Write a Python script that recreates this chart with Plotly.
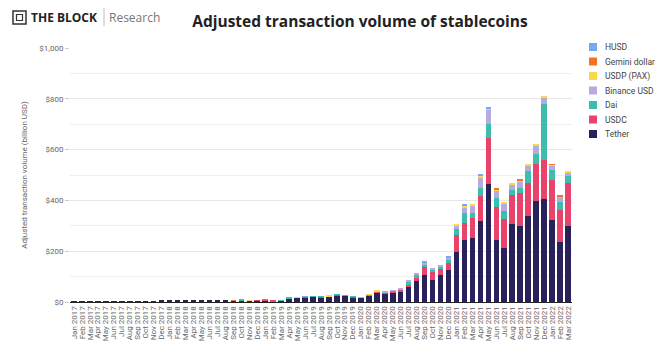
import plotly.graph_objects as go

months = ["Jan", "Feb", "Mar", "Apr", "May", "Jun", "Jul", "Aug", "Sep", "Oct", "Nov", "Dec"]
categories = [f"{m} {y}" for y in range(2017, 2023) for m in months][:63]

tether = [0.2, 0.2, 0.3, 0.3, 0.4, 0.5, 0.6, 0.7, 2.5, 1.0, 3, 5,
          9, 5, 6.5, 6.5, 8.5, 6.5, 8.5, 6.5, 6.5, 7, 5.5, 6,
          7, 3.5, 5.5, 14.5, 17, 19, 21, 19.5, 22, 27, 24.5, 19.5,
          16.5, 24.5, 36, 34, 39, 43, 59, 83, 107, 88, 107, 126,
          198, 243, 251, 318, 463, 245, 213, 309, 301, 339, 399, 405,
          322, 236, 300]
usdc = [0, 0, 0, 0, 0, 0, 0, 0, 0, 0, 0, 0,
        0, 0, 0, 0, 0, 0, 0, 0, 0, 0.5, 0.6, 1.2,
        1.5, 0.5, 0.7, 1, 1, 1, 1, 1, 1, 1.5, 1.5, 2.5,
        1.5, 2.5, 4, 3, 4, 5, 8, 13, 29, 33, 22, 28,
        65, 70, 78, 98, 183, 129, 113, 111, 127, 131, 143, 153,
        160, 127, 170]
dai = [0, 0, 0, 0, 0, 0, 0, 0, 0, 0, 0, 0,
       0, 0, 0, 0, 0, 0, 0, 0, 0, 0.8, 0, 0,
       0, 0, 0.3, 0.5, 0.6, 0.6, 1.5, 0.5, 0, 1, 1.2, 1,
       1, 1, 2, 2, 2, 3, 12, 9, 11, 5, 9, 10,
       24, 38, 21, 33, 55, 35, 33, 21, 21, 44, 41, 220,
       39, 32, 25]
busd = [0, 0, 0, 0, 0, 0, 0, 0, 0, 0, 0, 0,
        0, 0, 0, 0, 0, 0, 0, 0, 0, 0, 0, 0,
        0, 0, 0, 0, 0, 0, 0, 0, 0, 0, 0, 0,
        0.5, 0, 1, 2, 2, 2, 5, 8, 10, 7, 7, 10,
        15, 22, 29, 43, 56, 29, 27, 23, 26, 22, 33, 26,
        17, 19, 13]
usdp = [0, 0, 0, 0, 0, 0, 0, 0, 0, 0, 0, 0,
        0, 0, 0, 0, 0, 0, 0, 0, 0.3, 0, 0.4, 0,
        0, 0, 0, 0, 0.4, 0, 0, 0, 1.5, 0, 0, 0,
        0, 1, 2, 0, 0, 0, 0, 0, 0, 0, 0, 0,
        6, 5, 6, 3, 5, 5, 5, 3, 5, 6, 5, 5,
        3, 0, 4]
gusd = [0, 0, 0, 0, 0, 0, 0, 0, 0, 0, 0, 0,
        0, 0, 0, 0, 0, 0, 0, 0, 0.2, 0, 0, 0,
        1.2, 0, 0, 0, 0, 0, 0, 0, 0, 0, 0, 0,
        0, 0, 0, 0, 0, 0, 0, 0, 0, 0, 0, 0,
        0, 0, 0, 0, 0, 3, 0, 0, 4, 0, 0, 0,
        2, 4, 0]
husd = [0, 0, 0, 0, 0, 0, 0, 0, 0, 0, 0, 0,
        0, 0, 0, 0, 0, 0, 0, 0, 0, 0, 0, 0,
        0, 0, 0, 0, 0, 1, 0, 0, 0, 0, 0, 0,
        0, 0, 0, 0, 0, 0, 0, 0, 3, 0, 0, 5,
        0, 5, 0, 8, 6, 0, 0, 0, 0, 0, 0, 0,
        0, 0, 0]

series = [
    ("Tether", tether, "#29225a"),
    ("USDC", usdc, "#e8436a"),
    ("Dai", dai, "#3cbdae"),
    ("Binance USD", busd, "#b6abe0"),
    ("USDP (PAX)", usdp, "#f7d949"),
    ("Gemini dollar", gusd, "#f5731e"),
    ("HUSD", husd, "#7aa6f2"),
]

fig = go.Figure()
for name, vals, col in series:
    fig.add_trace(go.Bar(x=categories, y=vals, name=name, marker_color=col,
                         marker_line_width=0, showlegend=False))

L, R, T, B = 70, 85, 48, 50
W, H = 657, 352
pw, ph = W - L - R, H - T - B

def px(x):
    return (x - L) / pw

def py(y):
    return (H - B - y) / ph

fig.update_layout(
    width=W, height=H,
    margin=dict(l=L, r=R, t=T, b=B),
    barmode="stack", bargap=0.3,
    plot_bgcolor="white", paper_bgcolor="white",
    font=dict(family="Roboto, Open Sans, sans-serif", size=8, color="#555"),
    title=dict(text="<b>Adjusted transaction volume of stablecoins</b>",
               x=360 / W, xanchor="center", y=1 - 22 / H, yanchor="middle",
               font=dict(family="Open Sans", size=15.5, color="#222")),
    showlegend=False,
    xaxis=dict(type="category", tickangle=-90, showgrid=False,
               tickmode="linear", dtick=1,
               showline=True, linecolor="#222", linewidth=1,
               tickfont=dict(size=8, color="#666"), ticks=""),
    yaxis=dict(range=[0, 1000], tickvals=[0, 200, 400, 600, 800, 1000],
               ticktext=["$0", "$200", "$400", "$600", "$800", "$1,000"],
               showgrid=True, gridcolor="#e6e6e6", gridwidth=1,
               minor=dict(dtick=100, showgrid=True, gridcolor="#eeeeee"),
               ticks="outside", ticklen=4, tickcolor="#ccc",
               zeroline=False, tickfont=dict(size=8, color="#666"),
               title=dict(text="Adjusted transaction volume (billion USD)",
                          font=dict(size=8, color="#666"), standoff=10)),
)

# Manual legend (top to bottom: reversed stacking order)
for k, (name, vals, col) in enumerate(reversed(series)):
    yc = 47 + k * 14.5
    fig.add_shape(type="rect", xref="paper", yref="paper",
                  x0=px(589), x1=px(597), y0=py(yc - 4), y1=py(yc + 4),
                  fillcolor=col, line=dict(width=0))
    fig.add_annotation(xref="paper", yref="paper", x=px(603), y=py(yc),
                       xanchor="left", yanchor="middle", showarrow=False,
                       text=name, font=dict(size=8.5, color="#444"))

# Logo
fig.add_annotation(xref="paper", yref="paper", x=px(29), y=py(17), xanchor="left",
                   yanchor="middle", showarrow=False,
                   text="<b>THE BLOCK</b>",
                   font=dict(family="Open Sans", size=12, color="#222"))
fig.add_annotation(xref="paper", yref="paper", x=px(107), y=py(17), xanchor="left",
                   yanchor="middle", showarrow=False,
                   text="Research",
                   font=dict(family="Open Sans", size=12, color="#777"))
fig.add_shape(type="line", xref="paper", yref="paper", x0=px(104), x1=px(104),
              y0=py(8), y1=py(26), line=dict(color="#bbb", width=1))
fig.add_shape(type="rect", xref="paper", yref="paper", x0=px(13), x1=px(26),
              y0=py(11), y1=py(24), line=dict(color="#333", width=1.5))
fig.add_shape(type="rect", xref="paper", yref="paper", x0=px(16.5), x1=px(22.5),
              y0=py(14.5), y1=py(20.5), line=dict(color="#333", width=1.2))

fig.write_html("out.html")
